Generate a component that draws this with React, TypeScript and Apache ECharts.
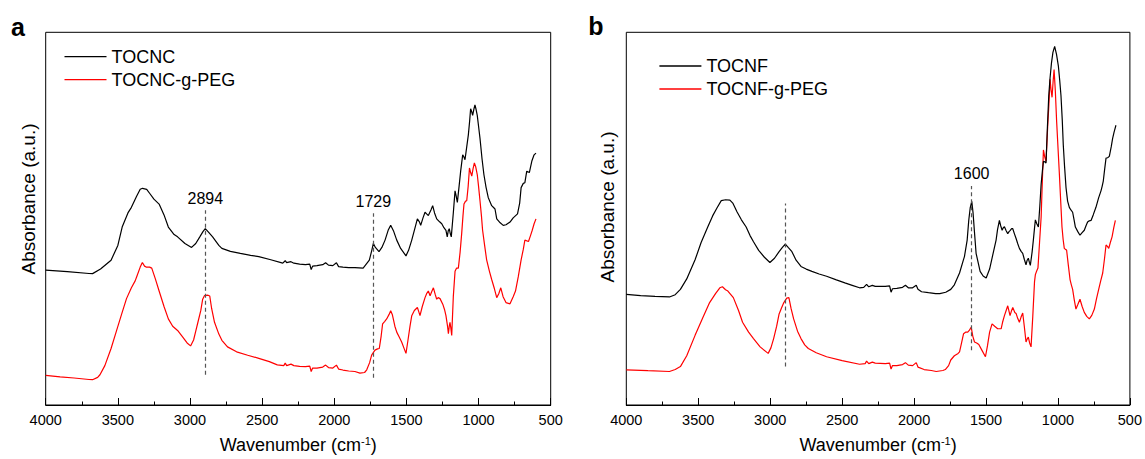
import React, { useEffect, useRef } from "react";
import * as echarts from "echarts";

const FONT = '"Liberation Sans", Arial, Helvetica, sans-serif';

const xTicks = [500, 4000, 500]; // min, max, interval (cm-1)

// [wavenumber (cm-1), absorbance (a.u.)]
const tocnc: number[][] = [
  [4000,137],[3850,135.5],[3700,133.5],[3675,133.4],[3620,138],[3547,147],[3500,162],[3470,180.7],[3430,195],[3406,200.7],
  [3370,212],[3345,219],[3329,220],[3300,219],[3280,215],[3250,209],[3214,204],[3180,193],[3150,180.7],[3110,173],
  [3086,170.7],[3035,164],[2989,160],[2960,164],[2932,170.7],[2910,176],[2894,179],[2875,176],[2843,170.7],[2800,162],
  [2779,159],[2720,156],[2651,154],[2580,152],[2523,150.7],[2440,147.5],[2357,144],[2340,146.5],[2330,144.5],[2300,145.5],
  [2280,144],[2240,143],[2200,142.5],[2170,143],[2160,137.5],[2150,141],[2120,141.5],[2080,142.5],[2060,144.5],[2040,142],
  [2010,141.5],[1985,144.5],[1970,140.5],[1940,140],[1900,139.5],[1857,139.5],[1800,139],[1757,147],[1740,157],[1729,164],
  [1715,160],[1690,155.7],[1670,160],[1648,167.4],[1625,178],[1609,182.4],[1590,177],[1567,167.4],[1540,159],[1503,151.4],
  [1485,157],[1463,167.4],[1440,180],[1424,189],[1410,186],[1401,182.4],[1385,190],[1371,195.7],[1360,194],[1348,192.4],
  [1330,198],[1318,202.4],[1305,195],[1290,189],[1270,186],[1255,184],[1240,180],[1226,177.4],[1217,170.7],[1210,177],
  [1203,179],[1196,174],[1189,170.7],[1175,195],[1163,217.4],[1155,212],[1147,205.7],[1135,222],[1124,237.4],[1110,254],
  [1102,252],[1094,249],[1082,262],[1071,274],[1062,288],[1055,300.7],[1048,298],[1041,294],[1033,300],[1025,304.7],
  [1017,300],[1009,294],[1000,283],[990,270.7],[976,250],[963,234],[948,221],[933,210.7],[920,206],[909,202.4],
  [896,200.5],[886,199],[874,189],[850,185],[829,182.4],[810,183],[782,185.7],[760,190],[730,194],[715,205],
  [705,220.7],[690,225],[679,225.7],[666,237.4],[648,236],[630,248],[615,254],[602,255.7]
];

const tocncPeg: number[][] = [
  [4000,30],[3900,28.5],[3803,27.4],[3700,25.9],[3675,25.7],[3640,28],[3624,30.7],[3590,40],[3547,57.4],[3510,75],
  [3470,94],[3440,108],[3406,119],[3380,126],[3368,130.7],[3345,140],[3330,144.7],[3315,141],[3304,140],[3280,140],
  [3265,139],[3240,128],[3214,115.7],[3180,100],[3150,87.4],[3120,80],[3086,75.7],[3050,69],[3020,63],[2996,60],
  [2975,66],[2960,75],[2945,84],[2925,96],[2912,107.4],[2900,111],[2889,111.4],[2875,111.5],[2863,110.7],[2850,98],
  [2830,84],[2800,72],[2779,65.7],[2740,59],[2677,54],[2600,50.5],[2523,47.4],[2450,44],[2395,40.7],[2350,40],
  [2340,42.5],[2330,40],[2300,41.5],[2280,40],[2240,39.2],[2200,39],[2170,39.5],[2160,34],[2150,37.5],[2120,37.5],
  [2080,38.5],[2060,40.5],[2040,38],[2010,37.5],[1985,40.5],[1970,36.5],[1940,35.5],[1900,34.5],[1857,34],[1822,32.4],
  [1790,33],[1775,35.7],[1755,43],[1741,50.7],[1718,55.7],[1700,57],[1688,57.4],[1675,70],[1665,82.4],[1650,85],
  [1637,87.4],[1620,92],[1609,95.7],[1598,92],[1591,87.4],[1580,80],[1567,74],[1550,69],[1533,64],[1515,57],
  [1503,52.4],[1490,65],[1475,80],[1463,90.7],[1445,96],[1424,99],[1415,95],[1406,90.7],[1390,100],[1371,109],
  [1360,113],[1348,115.7],[1336,111],[1325,115],[1313,119],[1300,112],[1290,107.4],[1280,109],[1267,108],[1248,102.4],
  [1236,97],[1226,90.7],[1215,80],[1209,72.4],[1203,80],[1198,84],[1192,78],[1186,70.7],[1175,110],[1163,135.7],
  [1152,139],[1140,139],[1128,155],[1117,174],[1108,192],[1101,204],[1090,207],[1082,207.4],[1072,222],[1063,240.7],
  [1055,236],[1047,232.4],[1038,240],[1029,245.7],[1020,242],[1009,234],[1000,222],[990,207.4],[980,192],[972,177.4],
  [958,162],[944,147.4],[925,136],[909,127.4],[890,118],[874,109],[860,113],[846,119],[830,110],[810,104],
  [782,102.7],[760,110],[744,115.7],[725,130],[705,147.4],[690,158],[679,167.4],[654,166],[640,172],[628,177.4],
  [615,184],[602,189]
];

const tocnf: number[][] = [
  [4000,112.4],[3900,111],[3800,110.3],[3700,109.7],[3660,112],[3624,117.4],[3580,128],[3522,147.4],[3480,165],[3434,180.7],
  [3400,192],[3370,200],[3340,207.5],[3310,208.4],[3280,208],[3260,205],[3230,196],[3200,188],[3167,180.7],[3140,172],
  [3116,165.7],[3080,157],[3040,150],[3002,144.7],[2970,149],[2938,155.7],[2915,160],[2895,163.4],[2875,160],[2849,155.7],
  [2820,147],[2786,140.7],[2750,138],[2710,135.7],[2660,133],[2608,130.7],[2540,127],[2481,124],[2430,121.5],[2379,119],
  [2350,119.5],[2330,122.5],[2315,120],[2290,121.5],[2270,120.5],[2240,120.5],[2200,120.5],[2170,121],[2160,114.5],[2150,118],
  [2120,118.5],[2080,119.5],[2060,121.5],[2040,119],[2010,119],[1985,121.5],[1973,117.5],[1948,115],[1900,114],[1850,113],
  [1821,113],[1780,114.5],[1745,117.4],[1720,122],[1694,130.7],[1684,134],[1657,147.4],[1650,150.7],[1631,167.4],[1620,187.4],
  [1610,200],[1599,206.7],[1590,195],[1580,175],[1569,154],[1541,135.7],[1520,131],[1499,129],[1475,138],[1453,152.4],
  [1430,167.4],[1420,178],[1407,187.4],[1398,182],[1388,177.4],[1380,180],[1372,181],[1360,177],[1349,174],[1340,176],
  [1333,177],[1322,179],[1314,179],[1303,174],[1291,169],[1280,164],[1268,159],[1256,156],[1245,154],[1234,148],
  [1222,142.4],[1214,147],[1206,149],[1199,145],[1192,141.7],[1180,155],[1171,167.4],[1164,178],[1157,188],[1147,184],
  [1136,180.7],[1126,202],[1117,224],[1108,238],[1101,247.4],[1092,247],[1083,245.7],[1074,280],[1064,314],[1055,332],
  [1045,347.4],[1035,358],[1023,364],[1010,356],[997,344],[988,330],[979,314],[970,289],[963,264],[954,242],
  [944,220.7],[933,207],[921,200.7],[910,198],[898,195.7],[888,188],[879,180.7],[862,176],[847,172.4],[832,175],
  [817,177.4],[805,182],[794,185.7],[782,187],[770,187.4],[755,193],[736,200.7],[718,210],[701,217.4],[693,222],
  [685,227.4],[675,240],[666,250.7],[655,251],[643,252.4],[630,262],[620,270.7],[610,277],[597,284]
];

const tocnfPeg: number[][] = [
  [4000,35.7],[3850,34.8],[3700,34],[3660,36],[3624,39],[3580,50],[3522,70.7],[3470,88],[3421,104],[3380,113],
  [3350,119],[3332,120],[3310,117],[3294,115.7],[3256,109],[3220,96],[3192,84],[3150,74],[3116,67.4],[3070,59],
  [3014,52.4],[2995,58],[2976,67.4],[2955,80],[2938,92.4],[2920,99],[2905,104],[2885,108.5],[2870,109],[2855,98],
  [2837,87.4],[2810,75],[2786,67.4],[2760,61],[2735,57.4],[2680,53],[2608,49],[2500,45],[2379,41.4],[2340,42],
  [2330,44.5],[2315,42],[2290,43.5],[2270,42.5],[2200,42],[2170,42.5],[2160,36.5],[2150,40],[2120,40],[2080,41],
  [2060,43],[2040,40.5],[2010,40],[1985,43],[1973,38.5],[1930,36],[1880,35],[1846,34],[1800,35],[1783,36],
  [1760,40],[1745,45.7],[1720,50],[1694,52.4],[1684,54],[1670,63],[1656,72.4],[1640,74],[1627,74],[1615,76],
  [1603,79],[1592,70],[1580,64],[1565,63],[1550,61.4],[1530,56],[1504,49],[1490,60],[1475,74],[1458,82.4],
  [1440,80],[1419,77.4],[1395,77.4],[1385,84],[1372,90.7],[1360,96],[1349,100.7],[1340,95],[1333,90.7],[1322,96],
  [1314,99],[1300,94],[1291,93],[1280,88],[1268,84],[1257,89],[1245,93.4],[1234,80],[1222,64],[1214,67],
  [1206,69],[1197,63],[1187,59],[1175,90],[1163,125],[1157,132.4],[1148,136],[1139,139],[1128,165],[1117,190.7],
  [1108,230],[1101,259],[1092,252],[1083,247.4],[1077,265],[1071,284],[1063,305],[1055,330.7],[1048,320],[1041,312.4],
  [1034,328],[1027,340.7],[1018,318],[1009,287.4],[1000,262],[990,234],[981,207],[972,180.7],[964,168],[956,159],
  [948,158],[940,157.4],[928,142],[916,127.4],[907,122],[898,117.4],[887,107],[875,97.4],[862,102],[847,107.4],
  [832,100],[817,94],[800,90],[782,87.4],[765,91],[747,97.4],[732,108],[717,117.4],[703,126],[689,134],
  [677,148],[666,162.4],[656,161],[647,159],[636,165],[624,170.7],[612,180],[601,187.4]
];

// Peak markers: [wavenumber, bottom, top, label]
const markersA: (number | string)[][] = [
  [2894, 30.7, 197.7, "2894"],
  [1729, 27.7, 194.7, "1729"],
];
const markersB: (number | string)[][] = [
  [2894, 39, 204.7, ""],
  [1600, 55.7, 222.4, "1600"],
];

const seriesNames = ["TOCNC", "TOCNC-g-PEG", "TOCNF", "TOCNF-g-PEG"];
const panelLabels = ["a", "b"];
const yTitle = "Absorbance (a.u.)";

const GRIDS = [
  { left: 45.7, top: 32.3, width: 505, height: 378.4 },
  { left: 626.3, top: 32.3, width: 504.4, height: 378.4 },
];
const YMAX = 378.4;

function makeMarkLine(markers: (number | string)[][]) {
  return {
    silent: true,
    symbol: ["none", "none"],
    lineStyle: { type: [4, 3], color: "#555", width: 1.2 },
    label: {
      show: true,
      position: "end",
      formatter: "{b}",
      fontSize: 16,
      fontFamily: FONT,
      color: "#000",
      distance: 4,
    },
    emphasis: { disabled: true },
    data: markers.map((m) => [
      { name: m[3] as string, coord: [m[0], m[1]] },
      { coord: [m[0], m[2]] },
    ]),
  };
}

export default function App() {
  const ref = useRef<HTMLDivElement>(null);
  useEffect(() => {
    if (!ref.current) return;
    const chart = echarts.init(ref.current, undefined, { renderer: "svg" });
    const xAxisBase = (gi: number) => ({
      gridIndex: gi,
      type: "value",
      inverse: true,
      min: xTicks[0],
      max: xTicks[1],
      interval: xTicks[2],
      axisLine: { show: true, lineStyle: { color: "#000", width: 1 } },
      axisTick: { show: true, inside: true, length: 7, lineStyle: { color: "#000", width: 1 } },
      minorTick: { show: true, splitNumber: 2, length: 3.5, lineStyle: { color: "#000", width: 1 } },
      axisLabel: { fontSize: 14.5, color: "#000", fontFamily: FONT, margin: 7, formatter: (v: number) => String(v) },
      splitLine: { show: false },
      name: "{a|Wavenumber (cm}{s|-1}{a|)}",
      nameLocation: "middle",
      nameGap: 30,
      nameTextStyle: {
        fontFamily: FONT,
        color: "#000",
        rich: {
          a: { fontSize: 18, fontFamily: FONT, color: "#000", lineHeight: 20 },
          s: { fontSize: 11, fontFamily: FONT, color: "#000", lineHeight: 20, verticalAlign: "top", padding: [0, 0, 8, 0] },
        },
      },
    });
    const yAxisBase = (gi: number) => ({
      gridIndex: gi,
      type: "value",
      min: 0,
      max: YMAX,
      axisLine: { show: false },
      axisTick: { show: false },
      axisLabel: { show: false },
      splitLine: { show: false },
    });
    const line = (name: string, data: number[][], gi: number, color: string, ml?: any) => ({
      type: "line",
      name,
      xAxisIndex: gi,
      yAxisIndex: gi,
      data,
      symbol: "none",
      showSymbol: false,
      lineStyle: { color, width: 1.2 },
      itemStyle: { color },
      emphasis: { disabled: true },
      z: color === "#000" ? 3 : 2,
      ...(ml ? { markLine: ml } : {}),
    });
    const legendBase = (left: number, top: number, names: string[]) => ({
      left,
      top,
      orient: "vertical",
      icon: "rect",
      itemWidth: 42,
      itemHeight: 1.3,
      itemGap: 5,
      itemTextGap: 6,
      selectedMode: false,
      data: names,
      textStyle: { fontSize: 18, fontFamily: FONT, color: "#000", lineHeight: 18 },
    });
    chart.setOption({
      animation: false,
      backgroundColor: "#fff",
      grid: GRIDS.map((g) => ({ ...g, show: true, borderColor: "#000", borderWidth: 1, backgroundColor: "transparent" })),
      xAxis: [xAxisBase(0), xAxisBase(1)],
      yAxis: [yAxisBase(0), yAxisBase(1)],
      legend: [
        legendBase(59.5, 42.7, [seriesNames[0], seriesNames[1]]),
        legendBase(654.4, 52, [seriesNames[2], seriesNames[3]]),
      ],
      series: [
        line(seriesNames[0], tocnc, 0, "#000", makeMarkLine(markersA)),
        line(seriesNames[1], tocncPeg, 0, "#ff0000"),
        line(seriesNames[2], tocnf, 1, "#000", makeMarkLine(markersB)),
        line(seriesNames[3], tocnfPeg, 1, "#ff0000"),
      ],
      graphic: [
        { type: "text", x: 18, y: 27, style: { text: panelLabels[0], fontSize: 25, fontWeight: "bold", fontFamily: FONT, fill: "#000", textAlign: "center", textVerticalAlign: "middle" } },
        { type: "text", x: 596, y: 26, style: { text: panelLabels[1], fontSize: 25, fontWeight: "bold", fontFamily: FONT, fill: "#000", textAlign: "center", textVerticalAlign: "middle" } },
        { type: "text", x: 28, y: 199, rotation: Math.PI / 2, style: { text: yTitle, fontSize: 19, fontFamily: FONT, fill: "#000", textAlign: "center", textVerticalAlign: "middle" } },
        { type: "text", x: 607, y: 207, rotation: Math.PI / 2, style: { text: yTitle, fontSize: 19, fontFamily: FONT, fill: "#000", textAlign: "center", textVerticalAlign: "middle" } },
      ],
    });
    return () => chart.dispose();
  }, []);
  return (
    <div
      ref={ref}
      style={{ position: "fixed", left: 0, top: 0, width: 1145, height: 459, background: "#fff" }}
    />
  );
}
